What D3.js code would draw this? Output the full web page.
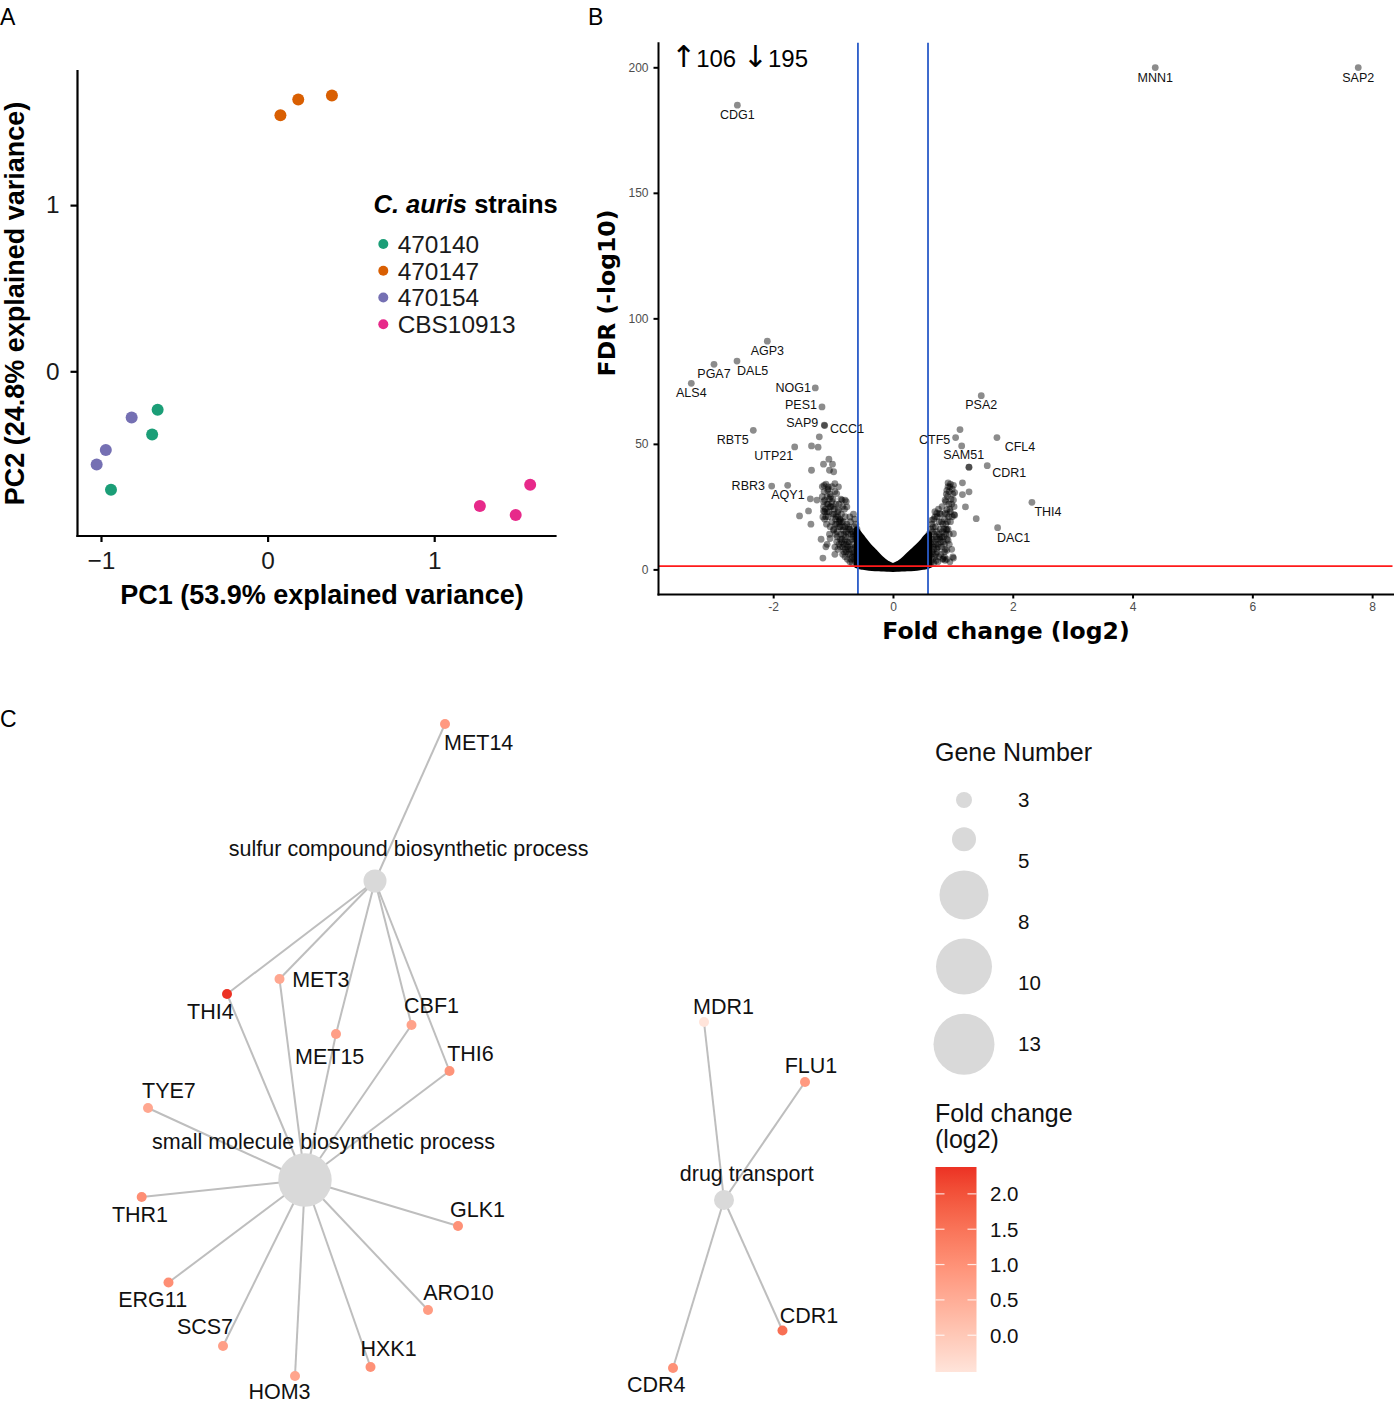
<!DOCTYPE html>
<html lang="en">
<head>
<meta charset="UTF-8" />
<title>C. auris figure</title>
<script src="https://cdn.jsdelivr.net/npm/d3@7"></script>
<style>
  body { margin: 0; background: #fff; }
  svg { display: block; }
</style>
</head>
<body>
<script>

// ---------- panel A : PCA ----------
var strains = ["470140", "470147", "470154", "CBS10913"];
var strainColors = ["#1b9e77", "#d95f02", "#7570b3", "#e7298a"];
var pcaStrain = ["470140", "470140", "470140", "470147", "470147", "470147",
                 "470154", "470154", "470154", "CBS10913", "CBS10913", "CBS10913"];
var pc1 = [-0.660, -0.693, -0.940, 0.077, 0.184, 0.386, -0.816, -0.971, -1.026, 1.576, 1.274, 1.489];
var pc2 = [-0.231, -0.380, -0.713, 1.541, 1.636, 1.660, -0.278, -0.473, -0.561, -0.682, -0.810, -0.865];
var pc1Ticks = [-1, 0, 1];
var pc2Ticks = [0, 1];

// ---------- panel B : volcano ----------
var upCount = 106, downCount = 195;
var volcanoGenes = ["MNN1", "SAP2", "CDG1", "AGP3", "DAL5", "PGA7", "ALS4", "NOG1", "PES1", "SAP9", "CCC1",
                    "RBT5", "UTP21", "RBR3", "AQY1", "PSA2", "CTF5", "SAM51", "CFL4", "CDR1", "THI4", "DAC1"];
var volcanoFC  = [4.379, 7.768, -2.598, -2.098, -2.604, -2.988, -3.367, -1.297, -1.185, -1.147, -1.140,
                  -2.332, -1.641, -2.025, -1.758, 1.474, 1.046, 1.147, 1.736, 1.574, 2.320, 1.747];
var volcanoFDR = [199.9, 199.9, 184.9, 90.9, 83.0, 81.7, 74.1, 72.3, 64.7, 57.5, 57.3,
                  55.4, 48.8, 33.2, 33.5, 69.2, 52.5, 49.2, 52.5, 41.3, 26.7, 16.6];
// other significant genes, [log2 fold change, -log10 FDR]
var otherGenes = [
  [-1.36,49.2],[-1.25,48.7],[-1.23,52.8],[-1.07,43.9],[-1.16,41.9],[-1.01,41.9],[-1.36,39.5],[-1.06,39.5],
  [-0.99,38.9],[-1.38,28.1],[-1.27,27.6],[-1.15,33.5],[-1.09,31.5],[-0.94,30.2],[-1.14,27.6],[-1.41,23.3],
  [-1.56,21.3],[-1.37,18.0],[-1.16,23.3],[-1.17,20.9],[-1.05,24.9],[-0.91,23.6],[-0.88,19.6],[-1.10,10.0],
  [-1.17,4.5],[-0.97,8.9],[-1.05,12.3],[-0.99,15.6],[-0.83,15.6],[-0.80,11.6],[-0.72,20.9],[-0.77,24.9],
  [-0.85,27.6],[-0.91,32.9],[-1.08,32.9],[-0.97,34.2],[-0.80,27.6],[-0.74,16.9],[-0.66,14.2],[-0.63,8.9],
  [-0.72,6.4],
  [-1.18,33],[-1.15,31],[-1.12,34],[-1.10,29],[-1.08,32],[-1.05,30],[-1.02,33],[-1.00,28],[-0.97,31],[-0.95,26],
  [-1.16,27],[-1.13,24],[-1.10,26],[-1.07,23],[-1.04,25],[-1.01,22],[-0.98,24],[-0.95,21],[-0.92,23],[-0.89,20],
  [-1.14,20],[-1.11,18],[-1.08,21],[-1.05,17],[-1.02,19],[-0.99,16],[-0.96,18],[-0.93,15],[-0.90,17],[-0.87,14],
  [-0.86,22],[-0.83,19],[-0.80,21],[-0.77,18],[-0.74,16],[-0.71,19],[-0.68,15],[-0.65,17],[-0.62,14],[-0.60,16],
  [-0.85,12],[-0.82,10],[-0.79,13],[-0.76,9],[-0.73,11],[-0.70,8],[-0.67,10],[-0.64,7],[-0.61,9],[-0.59,11],
  [-0.90,26],[-0.87,28],[-0.84,25],[-0.81,24],[-0.78,27],[-0.88,9],[-0.84,6],[-0.80,5],[-0.76,4],[-0.72,3],
  [-0.68,2.5],[-0.65,4],[-0.62,3],[-0.60,2],[-0.78,7],[-0.74,6],[-1.20,12],[-1.12,9],[-1.06,14],[-0.94,11],
  [-0.92,8],[-0.97,6],
  [-0.62,18],[-0.64,20],[-0.66,22],[-0.63,12],[-0.66,13],[-0.69,12],[-0.70,14],[-0.72,16],[-0.75,14],[-0.78,15],
  [-0.80,17],[-0.82,14],[-0.84,17],[-0.86,19],[-0.88,17],[-0.90,19],[-0.92,21],[-0.94,18],[-0.96,20],[-0.98,22],
  [-1.00,25],[-1.02,27],[-1.04,29],[-1.06,28],[-1.08,26],[-1.10,23],[-1.12,21],[-1.14,23],[-1.16,25],[-1.18,29],
  [-0.62,6],[-0.64,5],[-0.66,6.5],[-0.68,5],[-0.70,4],[-0.72,9],[-0.74,8],[-0.76,11],[-0.78,10],[-0.80,8],
  [-0.82,7],[-0.84,9],[-0.86,11],[-0.88,12],[-0.90,10],[-0.93,13],[-0.96,14],[-0.60,7],[-0.61,12],[-0.63,15],
  [1.119,55.7],[1.269,40.7],[1.269,40.7],[0.92,34.5],[1.01,33.5],[1.16,34.5],[0.90,31.5],[1.03,30.6],
  [1.27,30.9],[1.16,29.8],[0.87,27.6],[1.01,27.6],[1.21,24.9],[0.90,23.8],[1.02,21.8],[1.39,20.2],
  [0.78,22.3],[0.70,20.9],[0.81,18.9],[0.67,16.9],[0.90,15.6],[1.01,14.2],[0.78,12.9],[0.73,8.3],
  [0.90,7.6],[1.01,4.5],[0.84,4.3],[0.87,3.6],[0.67,6.3],[0.95,32.9],[0.87,22.4],[1.03,21.6],
  [0.92,11.6],[0.73,22.3],[0.65,19.6],
  [0.60,14],[0.63,12],[0.66,15],[0.69,11],[0.72,13],[0.75,10],[0.78,12],[0.81,9],[0.84,11],[0.87,8],
  [0.62,9],[0.65,7],[0.68,8],[0.71,6],[0.74,7],[0.77,5],[0.80,6],[0.83,4],[0.86,5],[0.60,4],[0.64,3],
  [0.68,2.5],[0.72,3.5],[0.65,18],[0.68,20],[0.71,17],[0.74,21],[0.77,19],[0.80,22],[0.83,18],[0.86,20],
  [0.70,23],[0.76,24],[0.82,25],[0.88,27],[0.91,29],[0.94,31],[0.92,33],[0.96,34],[0.99,32],[0.89,30],
  [0.93,26],[0.97,28],[1.00,30],[0.95,24],[0.90,22],[0.85,16],[0.88,14],[0.92,16],[0.96,19],[0.99,21],
  [1.02,25],[0.90,12],[0.94,10],[0.98,8],[1.00,5],[0.90,4],[0.95,3],[0.86,7],
  [0.60,10],[0.61,7],[0.62,5.5],[0.63,16],[0.64,10],[0.66,12],[0.67,9],[0.69,14],[0.70,5],[0.71,10],
  [0.73,15],[0.74,12],[0.76,9],[0.77,14],[0.79,16],[0.80,11],[0.82,13],[0.83,15],[0.85,13],[0.86,10],
  [0.88,18],[0.89,16],[0.91,19],[0.93,21],[0.94,14],[0.96,23],[0.98,26],[0.62,2],[0.66,4],[0.75,3]
];
// the dense cloud of non-significant genes, upper and lower edge
var cloudFC  = [-0.61, -0.55, -0.5, -0.4, -0.3, -0.2, -0.1, 0, 0.1, 0.2, 0.3, 0.4, 0.5, 0.55, 0.61];
var cloudTop = [16, 14, 12.5, 9.5, 7, 4.5, 2.6, 1.6, 2.6, 4.5, 6.8, 9, 11.5, 13, 14];
var cloudLow = [1.5, 1, 0.8, 0.5, 0.3, 0.2, 0.1, 0, 0.1, 0.2, 0.3, 0.5, 0.8, 1, 1.5];
var volcanoXTicks = [-2, 0, 2, 4, 6, 8];
var volcanoYTicks = [0, 50, 100, 150, 200];

// ---------- panel C : gene-concept network ----------
var terms = ["sulfur compound biosynthetic process", "small molecule biosynthetic process", "drug transport"];
var termGeneCount = [6, 13, 4];
var termLX = [37.5, 30.5, 72.4];
var termLY = [18.1, 48.0, 50.0];
var netGenes = ["MET14", "THI4", "MET3", "MET15", "CBF1", "THI6", "TYE7", "THR1", "ERG11",
                "SCS7", "HOM3", "HXK1", "ARO10", "GLK1", "MDR1", "FLU1", "CDR1", "CDR4"];
var netFC = [0.85, 2.38, 0.6, 0.75, 0.7, 0.95, 0.6, 1.05, 1.05, 0.75, 0.65, 1.0, 0.8, 1.0, -0.52, 0.85, 1.57, 1.0];
var netLX = [44.5, 22.7, 27.95, 33.6, 41.15, 44.95, 14.8, 14.17, 16.85, 22.3, 29.5, 37.05, 42.8, 45.8, 70.4, 80.5, 78.25, 67.3];
var netLY = [2.4, 29.4, 27.9, 33.4, 32.5, 37.1, 40.8, 49.7, 58.25, 64.6, 67.6, 66.7, 61.0, 52.6, 32.2, 38.2, 63.05, 66.8];
var termLinks = [
  ["MET14", "THI4", "MET3", "MET15", "CBF1", "THI6"],
  ["THI4", "MET3", "MET15", "CBF1", "THI6", "TYE7", "THR1", "ERG11", "SCS7", "HOM3", "HXK1", "ARO10", "GLK1"],
  ["MDR1", "FLU1", "CDR1", "CDR4"]
];
var sizeBreaks = [3, 5, 8, 10, 13];
var fcBreaks = [0.0, 0.5, 1.0, 1.5, 2.0];

// ---------- drawing ----------
var FONT = '"Liberation Sans", Arial, Helvetica, sans-serif';
var FONT_B = '"DejaVu Sans", Verdana, sans-serif';

var svg = d3.select("body").append("svg")
    .attr("width", 1394).attr("height", 1403)
    .attr("font-family", FONT);

// panel letters
svg.append("text").attr("x", 0).attr("y", 25).attr("font-size", 23).text("A");
svg.append("text").attr("x", 588).attr("y", 25).attr("font-size", 23).text("B");
svg.append("text").attr("x", 0).attr("y", 727).attr("font-size", 23).text("C");

function styleAxis(g, size, color, width, family) {
  g.attr("font-family", family).attr("font-size", size);
  g.select(".domain").attr("stroke", "#000").attr("stroke-width", width).attr("stroke-linecap", "square");
  g.selectAll(".tick line").attr("stroke", "#000").attr("stroke-width", width);
  g.selectAll(".tick text").attr("fill", color);
}

// ===== A =====
var xA = d3.scaleLinear().domain([-1.144, 1.725]).range([77, 555]);
var yA = d3.scaleLinear().domain([-0.988, 1.81]).range([535.5, 70.5]);
var colA = d3.scaleOrdinal().domain(strains).range(strainColors);
var gA = svg.append("g");

gA.selectAll("circle.pca")
  .data(pcaStrain)
  .join("circle")
  .attr("class", "pca")
  .attr("cx", function(d, i) { return xA(pc1[i]); })
  .attr("cy", function(d, i) { return yA(pc2[i]); })
  .attr("r", 6)
  .attr("fill", function(d) { return colA(d); });

gA.append("g")
  .attr("transform", "translate(0,535.5)")
  .call(d3.axisBottom(xA).tickValues(pc1Ticks).tickFormat(d3.format("d"))
        .tickSize(6.5).tickPadding(9.5).tickSizeOuter(0))
  .call(styleAxis, 24.4, "#1a1a1a", 2.2, FONT);

gA.append("g")
  .attr("transform", "translate(77,0)")
  .call(d3.axisLeft(yA).tickValues(pc2Ticks).tickFormat(d3.format("d"))
        .tickSize(6.5).tickPadding(11).tickSizeOuter(0))
  .call(styleAxis, 24.4, "#1a1a1a", 2.2, FONT);

gA.append("text")
  .attr("x", 322).attr("y", 604)
  .attr("text-anchor", "middle").attr("font-size", 27).attr("font-weight", "bold")
  .text("PC1 (53.9% explained variance)");
gA.append("text")
  .attr("transform", "translate(23.5,303.5) rotate(-90)")
  .attr("text-anchor", "middle").attr("font-size", 27).attr("font-weight", "bold")
  .text("PC2 (24.8% explained variance)");

// legend
var legA = gA.append("g");
var legTitle = legA.append("text").attr("x", 373.5).attr("y", 212.7)
  .attr("font-size", 25.5).attr("font-weight", "bold");
legTitle.append("tspan").attr("font-style", "italic").text("C. auris");
legTitle.append("tspan").text(" strains");
var legRow = d3.scaleLinear().domain([0, 3]).range([244, 324.2]);
legA.selectAll("circle").data(strains).join("circle")
  .attr("cx", 383.3).attr("cy", function(d, i) { return legRow(i); })
  .attr("r", 5).attr("fill", function(d) { return colA(d); });
legA.selectAll("text.lab").data(strains).join("text")
  .attr("class", "lab")
  .attr("x", 397.7).attr("y", function(d, i) { return legRow(i); })
  .attr("dy", "0.36em").attr("font-size", 24.4).attr("fill", "#1a1a1a")
  .text(function(d) { return d; });

// ===== B =====
var xB = d3.scaleLinear().domain([-3.923, 8.34]).range([658, 1392.5]);
var yB = d3.scaleLinear().domain([-9.8, 209.8]).range([594, 42.7]);
var gB = svg.append("g");

var cloud = d3.area()
  .x(function(d, i) { return xB(cloudFC[i]); })
  .y0(function(d, i) { return yB(cloudLow[i]); })
  .y1(function(d, i) { return yB(cloudTop[i]); })
  .curve(d3.curveCatmullRom);
gB.append("path").datum(cloudFC).attr("d", cloud)
  .attr("fill", "#000").attr("stroke", "#000").attr("stroke-width", 5).attr("stroke-linejoin", "round");

gB.selectAll("circle.bg").data(otherGenes).join("circle")
  .attr("class", "bg")
  .attr("cx", function(d) { return xB(d[0]); })
  .attr("cy", function(d) { return yB(d[1]); })
  .attr("r", 3.4).attr("fill", "#000").attr("fill-opacity", 0.45);

gB.selectAll("circle.lab").data(volcanoGenes).join("circle")
  .attr("class", "lab")
  .attr("cx", function(d, i) { return xB(volcanoFC[i]); })
  .attr("cy", function(d, i) { return yB(volcanoFDR[i]); })
  .attr("r", 3.4).attr("fill", "#000").attr("fill-opacity", 0.45);

// thresholds
var fcCut = Math.log2(1.5), fdrCut = -Math.log10(0.05);
gB.selectAll("line.vcut").data([-fcCut, fcCut]).join("line")
  .attr("class", "vcut")
  .attr("x1", function(d) { return xB(d); }).attr("x2", function(d) { return xB(d); })
  .attr("y1", yB.range()[0]).attr("y2", yB.range()[1])
  .attr("stroke", "#2a5bc8").attr("stroke-width", 1.8);
gB.append("line")
  .attr("x1", xB.range()[0]).attr("x2", xB.range()[1])
  .attr("y1", yB(fdrCut)).attr("y2", yB(fdrCut))
  .attr("stroke", "#ff1a1a").attr("stroke-width", 1.8);

// gene labels
var volcanoNudge = {
  MNN1: [0, 9.6], SAP2: [0, 9.6], CDG1: [0, 9.2], AGP3: [0, 9.4], DAL5: [15.7, 9.3], PGA7: [0, 9],
  ALS4: [0, 9.4], NOG1: [-22, 0], PES1: [-21, -2], SAP9: [-22, -2.7], CCC1: [22.4, 2.7],
  RBT5: [-20.6, 9], UTP21: [-21, 9], RBR3: [-23.4, -0.3], AQY1: [0.3, 9.4], PSA2: [0, 9],
  CTF5: [-21, 1.6], SAM51: [2, 9], CFL4: [23, 9], CDR1: [22, 7], THI4: [16, 9], DAC1: [16, 9.3]
};
gB.selectAll("text.glab").data(volcanoGenes).join("text")
  .attr("class", "glab")
  .attr("x", function(d, i) { return xB(volcanoFC[i]) + volcanoNudge[d][0]; })
  .attr("y", function(d, i) { return yB(volcanoFDR[i]) + volcanoNudge[d][1]; })
  .attr("dy", "0.36em").attr("text-anchor", "middle")
  .attr("font-size", 12.5).attr("fill", "#111")
  .text(function(d) { return d; });

// axes
gB.append("g")
  .attr("transform", "translate(0,594)")
  .call(d3.axisBottom(xB).tickValues(volcanoXTicks).tickFormat(d3.format("d"))
        .tickSize(4.5).tickPadding(4).tickSizeOuter(0))
  .call(styleAxis, 12, "#4d4d4d", 2, FONT);
gB.append("g")
  .attr("transform", "translate(658,0)")
  .call(d3.axisLeft(yB).tickValues(volcanoYTicks).tickFormat(d3.format("d"))
        .tickSize(4.5).tickPadding(5).tickSizeOuter(0))
  .call(styleAxis, 12, "#4d4d4d", 2, FONT);
gB.selectAll(".tick text").text(function(d) { return d < 0 ? "-" + Math.abs(d) : d; });

gB.append("text")
  .attr("x", 1006).attr("y", 639)
  .attr("text-anchor", "middle").attr("font-family", FONT_B).attr("font-weight", "bold").attr("font-size", 23.5)
  .text("Fold change (log2)");
gB.append("text")
  .attr("transform", "translate(615,293) rotate(-90)")
  .attr("text-anchor", "middle").attr("font-family", FONT_B).attr("font-weight", "bold").attr("font-size", 23.5)
  .text("FDR (-log10)");

var counts = gB.append("text").attr("x", 671).attr("y", 67).attr("font-size", 24);
counts.append("tspan").attr("font-family", "DejaVu Sans").attr("font-size", 30).text("\u2191");
counts.append("tspan").text(upCount + " ");
counts.append("tspan").attr("font-family", "DejaVu Sans").attr("font-size", 30).text("\u2193");
counts.append("tspan").text(downCount);

// ===== C =====
var cx = d3.scaleLinear().domain([0, 100]).range([0, 1000]);
var cy = d3.scaleLinear().domain([0, 70]).range([700, 1400]);
var termR = d3.scaleLinear().domain([4, 6, 13]).range([10, 11.5, 26.7]);
var legendR = d3.scaleLinear().domain(sizeBreaks).range([8, 12, 24.5, 28, 30.5]);
var fcExtent = d3.extent(netFC);
var fcColor = d3.scaleLinear().domain(fcExtent).range(["#ffe4da", "#ec3224"]).interpolate(d3.interpolateLab);
var gC = svg.append("g");

var geneIndex = {};
netGenes.forEach(function(g, i) { geneIndex[g] = i; });
var links = [];
termLinks.forEach(function(list, t) {
  list.forEach(function(g) { links.push({ t: t, g: geneIndex[g] }); });
});

gC.selectAll("line.edge").data(links).join("line")
  .attr("class", "edge")
  .attr("x1", function(d) { return cx(termLX[d.t]); })
  .attr("y1", function(d) { return cy(termLY[d.t]); })
  .attr("x2", function(d) { return cx(netLX[d.g]); })
  .attr("y2", function(d) { return cy(netLY[d.g]); })
  .attr("stroke", "#bebebe").attr("stroke-width", 2);

gC.selectAll("circle.term").data(terms).join("circle")
  .attr("class", "term")
  .attr("cx", function(d, i) { return cx(termLX[i]); })
  .attr("cy", function(d, i) { return cy(termLY[i]); })
  .attr("r", function(d, i) { return termR(termGeneCount[i]); })
  .attr("fill", "#d9d9d9");

gC.selectAll("circle.gene").data(netGenes).join("circle")
  .attr("class", "gene")
  .attr("cx", function(d, i) { return cx(netLX[i]); })
  .attr("cy", function(d, i) { return cy(netLY[i]); })
  .attr("r", 5)
  .attr("fill", function(d, i) { return fcColor(netFC[i]); });

var termNudge = [[33.7, -32.7], [18.5, -39.2], [22.7, -27]];
gC.selectAll("text.term").data(terms).join("text")
  .attr("class", "term")
  .attr("x", function(d, i) { return cx(termLX[i]) + termNudge[i][0]; })
  .attr("y", function(d, i) { return cy(termLY[i]) + termNudge[i][1]; })
  .attr("dy", "0.36em").attr("text-anchor", "middle").attr("font-size", 21.5).attr("fill", "#111")
  .text(function(d) { return d; });

var geneNudge = {
  MET14: [33.7, 18.5], THI4: [-16.7, 17.4], MET3: [41.3, 0.5], MET15: [-6.3, 21.8], CBF1: [20, -19.5],
  THI6: [21, -17.5], TYE7: [20.9, -17.5], THR1: [-1.7, 17.7], ERG11: [-15.8, 16.8], SCS7: [-18, -19.8],
  HOM3: [-15.5, 15.5], HXK1: [18.1, -19], ARO10: [30.4, -17.8], GLK1: [19.5, -16.8], MDR1: [19.5, -15.5],
  FLU1: [6, -16.3], CDR1: [26.5, -15], CDR4: [-16.7, 15.9]
};
gC.selectAll("text.gene").data(netGenes).join("text")
  .attr("class", "gene")
  .attr("x", function(d, i) { return cx(netLX[i]) + geneNudge[d][0]; })
  .attr("y", function(d, i) { return cy(netLY[i]) + geneNudge[d][1]; })
  .attr("dy", "0.36em").attr("text-anchor", "middle").attr("font-size", 21.5).attr("fill", "#111")
  .text(function(d) { return d; });

// size legend
var legC = gC.append("g");
legC.append("text").attr("x", 935).attr("y", 761).attr("font-size", 25).attr("fill", "#111").text("Gene Number");
var keyY = [];
sizeBreaks.forEach(function(v, i) {
  keyY.push(i === 0 ? 800 : keyY[i - 1] + legendR(sizeBreaks[i - 1]) + legendR(v) + 19.2);
});
legC.selectAll("circle").data(sizeBreaks).join("circle")
  .attr("cx", 964).attr("cy", function(d, i) { return keyY[i]; })
  .attr("r", function(d) { return legendR(d); }).attr("fill", "#d9d9d9");
var keyLabelY = d3.scaleLinear().domain([0, 4]).range([800, 1044]);
legC.selectAll("text.k").data(sizeBreaks).join("text")
  .attr("class", "k")
  .attr("x", 1018).attr("y", function(d, i) { return keyLabelY(i); })
  .attr("dy", "0.36em").attr("font-size", 20.5).attr("fill", "#111")
  .text(function(d) { return d; });

// colour legend
legC.append("text").attr("x", 935).attr("y", 1122).attr("font-size", 25).attr("fill", "#111").text("Fold change");
legC.append("text").attr("x", 935).attr("y", 1148).attr("font-size", 25).attr("fill", "#111").text("(log2)");
var barY = d3.scaleLinear().domain(fcExtent).range([1372, 1167]);
var grad = svg.append("defs").append("linearGradient")
  .attr("id", "fcgrad").attr("x1", 0).attr("y1", 1).attr("x2", 0).attr("y2", 0);
d3.range(0, 1.0001, 0.1).forEach(function(t) {
  grad.append("stop").attr("offset", t)
    .attr("stop-color", fcColor(fcExtent[0] + t * (fcExtent[1] - fcExtent[0])));
});
legC.append("rect")
  .attr("x", 935.5).attr("y", barY.range()[1])
  .attr("width", 41).attr("height", barY.range()[0] - barY.range()[1])
  .attr("fill", "url(#fcgrad)");
legC.selectAll("line.tk").data(fcBreaks.concat(fcBreaks)).join("line")
  .attr("class", "tk")
  .attr("x1", function(d, i) { return i < fcBreaks.length ? 935.5 : 967.5; })
  .attr("x2", function(d, i) { return i < fcBreaks.length ? 944.5 : 976.5; })
  .attr("y1", function(d) { return barY(d); }).attr("y2", function(d) { return barY(d); })
  .attr("stroke", "#fff").attr("stroke-width", 1.2).attr("stroke-opacity", 0.8);
legC.selectAll("text.fc").data(fcBreaks).join("text")
  .attr("class", "fc")
  .attr("x", 990).attr("y", function(d) { return barY(d); })
  .attr("dy", "0.36em").attr("font-size", 20.5).attr("fill", "#111")
  .text(function(d) { return d3.format(".1f")(d); });

</script>
</body>
</html>
